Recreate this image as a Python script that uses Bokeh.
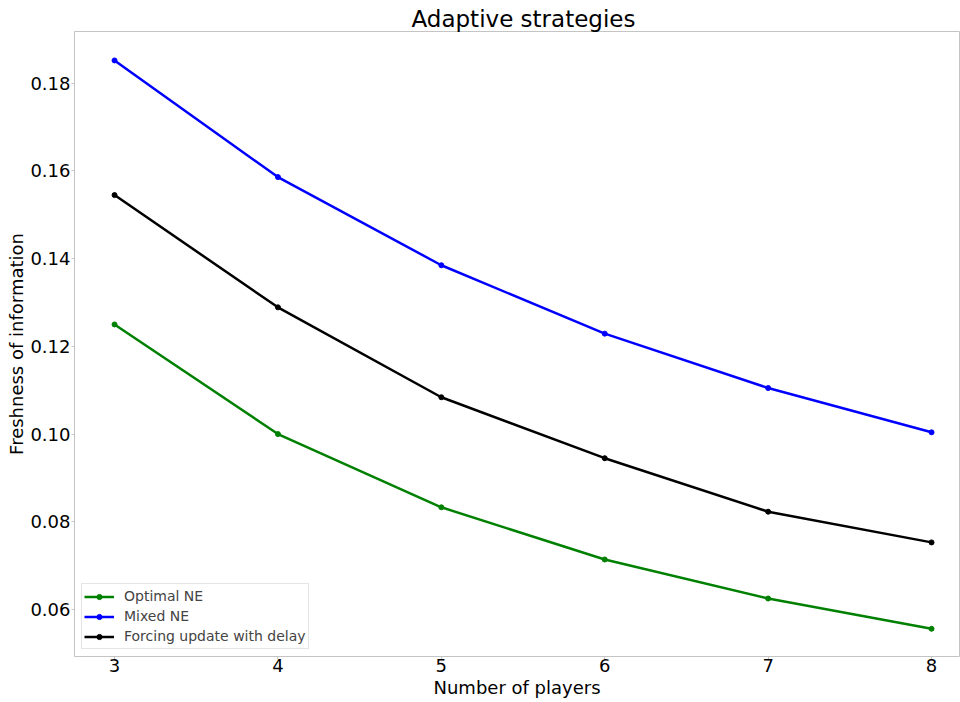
from bokeh.plotting import figure
from bokeh.models import Range1d, Legend, FixedTicker, Title
from bokeh.embed import file_html
from bokeh.resources import INLINE

# Data
players = [3, 4, 5, 6, 7, 8]
optimal_ne = [0.125, 0.100, 0.0833, 0.0714, 0.0625, 0.0556]
mixed_ne = [0.1852, 0.1586, 0.1385, 0.1229, 0.1105, 0.1004]
forcing_delay = [0.1545, 0.1289, 0.1084, 0.0945, 0.0823, 0.0753]
y_ticks = [0.06, 0.08, 0.10, 0.12, 0.14, 0.16, 0.18]
y_tick_labels = ["0.06", "0.08", "0.10", "0.12", "0.14", "0.16", "0.18"]

FONT = "DejaVu Sans"
SPINE = "#c4c4c4"

p = figure(
    width=960, height=702,
    x_range=Range1d(2.755, 8.171), y_range=Range1d(0.04928, 0.1918),
    output_backend="svg", toolbar_location=None,
    min_border_left=74, min_border_right=1, min_border_top=31, min_border_bottom=46,
)
p.xgrid.visible = False
p.ygrid.visible = False
p.outline_line_color = SPINE
p.outline_line_width = 1
p.background_fill_color = "white"
p.border_fill_color = "white"

for ax in (p.xaxis, p.yaxis):
    ax.axis_line_color = None
    ax.major_tick_line_color = SPINE
    ax.major_tick_out = 3
    ax.major_tick_in = 0
    ax.minor_tick_line_color = None
    ax.major_label_text_font = FONT
    ax.major_label_text_font_size = "18px"
    ax.major_label_text_color = "#000000"
    ax.axis_label_text_font = FONT
    ax.axis_label_text_font_size = "18px"
    ax.axis_label_text_font_style = "normal"
    ax.axis_label_text_color = "#000000"

p.xaxis.ticker = FixedTicker(ticks=players)
p.xaxis.major_label_standoff = -1
p.xaxis.axis_label = "Number of players"
p.xaxis.axis_label_standoff = 2
p.yaxis.ticker = FixedTicker(ticks=y_ticks)
p.yaxis.major_label_overrides = {t: s for t, s in zip(y_ticks, y_tick_labels)}
p.yaxis.major_label_standoff = 1
p.yaxis.axis_label = "Freshness of information"
p.yaxis.axis_label_standoff = 0

series = [
    ("Optimal NE", optimal_ne, "green"),
    ("Mixed NE", mixed_ne, "blue"),
    ("Forcing update with delay", forcing_delay, "black"),
]
items = []
for name, ys, color in series:
    ln = p.line(players, ys, line_color=color, line_width=2.5)
    pt = p.scatter(players, ys, size=5, fill_color=color, line_color=color)
    items.append((name, [ln, pt]))

legend = Legend(
    items=items, location="bottom_left", margin=7,
    padding=2, spacing=0, glyph_width=30, glyph_height=13, label_height=20,
    label_standoff=10, label_text_font=FONT, label_text_font_size="14px",
    border_line_color="#cccccc", border_line_width=1,
    background_fill_color="white", background_fill_alpha=0.8,
)
p.add_layout(legend, "center")

p.title = Title(
    text="Adaptive strategies", align="left", offset=337, standoff=0,
    text_font=FONT, text_font_size="23px", text_font_style="normal",
    text_color="#000000",
)

open("out.html", "w").write(file_html(p, INLINE))
